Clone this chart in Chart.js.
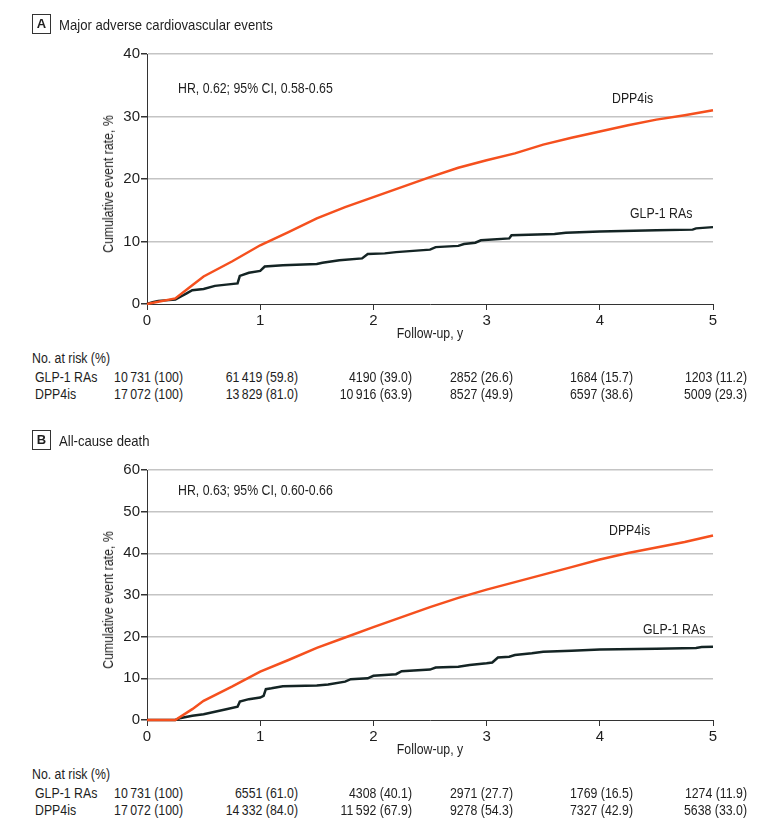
<!DOCTYPE html>
<html>
<head>
<meta charset="utf-8">
<script src="https://cdn.jsdelivr.net/npm/chart.js@4.4.0/dist/chart.umd.min.js"></script>
<style>
  body { margin: 0; background: #fff; }
  #page { position: relative; width: 780px; height: 827px; overflow: hidden;
          font-family: "Liberation Sans", Arial, sans-serif; color: #1e1e1e; }
  .panel { position: absolute; left: 0; width: 780px; height: 410px; }
  .panel canvas { position: absolute; left: 0; top: 0; }
  .txt { position: absolute; white-space: nowrap; line-height: 1; font-size: 14px;
         transform-origin: left center; transform: translateY(-50%) scaleX(0.88); }
  .num { text-align: right; width: 120px; transform-origin: right center; }
  .mid { transform-origin: center center; transform: translate(-50%, -50%) scaleX(0.88); }
  .rot { transform-origin: center center; transform: translate(-50%, -50%) rotate(-90deg) scaleX(0.88); }
  .tag { position: absolute; width: 17px; height: 18px; border: 1px solid #333; font-weight: bold;
         font-size: 13px; text-align: center; line-height: 18px; }
</style>
</head>
<body>
<div id="page"></div>
<script>
const FONT = '"Liberation Sans", Arial, sans-serif';

// x ticks (years)
const years = [0, 1, 2, 3, 4, 5];

// A: major adverse cardiovascular events
const maceDppT = [0, 0.25, 0.4, 0.5, 0.75, 1.0, 1.25, 1.5, 1.75, 2.0, 2.25, 2.5, 2.75, 3.0, 3.25, 3.5, 3.75, 4.0, 4.25, 4.5, 4.75, 5.0];
const maceDppY = [0, 0.9, 3.0, 4.4, 6.8, 9.4, 11.5, 13.7, 15.5, 17.1, 18.7, 20.3, 21.8, 23.0, 24.1, 25.5, 26.6, 27.6, 28.6, 29.5, 30.2, 31.0];
const maceGlpT = [0, 0.05, 0.1, 0.25, 0.3, 0.35, 0.4, 0.5, 0.6, 0.7, 0.8, 0.82, 0.9, 1.0, 1.04, 1.2, 1.5, 1.55, 1.7, 1.9,
                  1.95, 2.1, 2.2, 2.5, 2.55, 2.75, 2.8, 2.9, 2.95, 3.2, 3.22, 3.6, 3.7, 4.0, 4.5, 4.82, 4.85, 5.0];
const maceGlpY = [0, 0.3, 0.5, 0.7, 1.2, 1.7, 2.2, 2.4, 2.9, 3.1, 3.3, 4.5, 5.0, 5.3, 6.0, 6.2, 6.4, 6.6, 7.0, 7.3,
                  8.0, 8.1, 8.3, 8.7, 9.1, 9.3, 9.6, 9.8, 10.2, 10.5, 11.0, 11.2, 11.4, 11.6, 11.8, 11.9, 12.1, 12.3];
const maceYTicks = [0, 10, 20, 30, 40];
const maceRiskGlp = [10731, 61419, 4190, 2852, 1684, 1203];
const maceRiskGlpPct = ['100', '59.8', '39.0', '26.6', '15.7', '11.2'];
const maceRiskDpp = [17072, 13829, 10916, 8527, 6597, 5009];
const maceRiskDppPct = ['100', '81.0', '63.9', '49.9', '38.6', '29.3'];

// B: all-cause death
const deathDppT = [0, 0.25, 0.4, 0.5, 0.75, 1.0, 1.25, 1.5, 1.75, 2.0, 2.25, 2.5, 2.75, 3.0, 3.25, 3.5, 3.75, 4.0, 4.25, 4.5, 4.75, 5.0];
const deathDppY = [0, 0, 2.6, 4.6, 8.0, 11.6, 14.4, 17.3, 19.8, 22.3, 24.7, 27.1, 29.3, 31.3, 33.1, 34.9, 36.7, 38.5, 40.1, 41.4, 42.7, 44.3];
const deathGlpT = [0, 0.25, 0.3, 0.4, 0.5, 0.6, 0.7, 0.8, 0.82, 0.9, 1.0, 1.03, 1.05, 1.1, 1.2, 1.5, 1.6, 1.75, 1.8, 1.95,
                   2.0, 2.2, 2.25, 2.5, 2.55, 2.75, 2.85, 3.0, 3.05, 3.1, 3.2, 3.25, 3.4, 3.5, 3.75, 4.0, 4.5, 4.85, 4.9, 5.0];
const deathGlpY = [0, 0, 0.5, 1.0, 1.4, 2.0, 2.6, 3.2, 4.4, 5.0, 5.4, 5.8, 7.4, 7.6, 8.1, 8.3, 8.5, 9.2, 9.8, 10.0,
                   10.6, 11.0, 11.7, 12.1, 12.6, 12.8, 13.2, 13.6, 13.8, 15.0, 15.2, 15.6, 16.0, 16.4, 16.6, 16.9, 17.1, 17.3, 17.5, 17.6];
const deathYTicks = [0, 10, 20, 30, 40, 50, 60];
const deathRiskGlp = [10731, 6551, 4308, 2971, 1769, 1274];
const deathRiskGlpPct = ['100', '61.0', '40.1', '27.7', '16.5', '11.9'];
const deathRiskDpp = [17072, 14332, 11592, 9278, 7327, 5638];
const deathRiskDppPct = ['100', '84.0', '67.9', '54.3', '42.9', '33.0'];

const ORANGE = '#f5501e';
const DARK = '#142424';
const GRID = '#c4c4c4';
const AXIS = '#333';

// right edges of the at-risk columns
const colRight = [183, 298, 412, 513, 633, 747];

const pts = (t, y) => t.map((x, i) => ({ x: x, y: y[i] }));
const fmtN = n => n >= 10000 ? String(n).replace(/(\d{2})(\d{3})$/, '$1\u2009$2') : String(n);

const page = document.getElementById('page');

function addText(parent, text, x, y, cls, extra) {
    const d = document.createElement('div');
    d.className = cls || 'txt';
    d.textContent = text;
    d.style.left = x + 'px';
    d.style.top = y + 'px';
    if (extra) Object.assign(d.style, extra);
    parent.appendChild(d);
    return d;
}

function buildPanel(p) {
    const el = document.createElement('div');
    el.className = 'panel';
    el.style.top = p.top + 'px';
    page.appendChild(el);

    const cv = document.createElement('canvas');
    cv.width = 780;
    cv.height = 345;
    el.appendChild(cv);

    new Chart(cv, {
        type: 'line',
        data: {
            datasets: [
                { label: 'DPP4is', data: pts(p.dppT, p.dppY), borderColor: ORANGE, borderWidth: 2.5, pointRadius: 0, tension: 0, clip: 4 },
                { label: 'GLP-1 RAs', data: pts(p.glpT, p.glpY), borderColor: DARK, borderWidth: 2.5, pointRadius: 0, tension: 0, clip: 4 }
            ]
        },
        options: {
            responsive: false,
            animation: false,
            devicePixelRatio: 1,
            layout: { padding: { top: 54, left: 95, right: 67, bottom: 0 } },
            plugins: { legend: { display: false }, tooltip: { enabled: false } },
            scales: {
                x: {
                    type: 'linear', min: 0, max: 5,
                    afterBuildTicks: s => { s.ticks = years.map(v => ({ value: v })); },
                    afterFit: s => { s.height = 41; },
                    ticks: { font: { family: FONT, size: 15 }, color: '#1e1e1e', padding: 2, maxRotation: 0 },
                    grid: { drawOnChartArea: false, tickLength: 6, tickColor: AXIS },
                    border: { color: AXIS, width: 1 }
                },
                y: {
                    min: 0, max: p.yTicks[p.yTicks.length - 1],
                    afterBuildTicks: s => { s.ticks = p.yTicks.map(v => ({ value: v })); },
                    afterFit: s => { s.width = 52; },
                    ticks: { font: { family: FONT, size: 15 }, color: '#1e1e1e', padding: 1 },
                    grid: {
                        color: c => (c.tick && c.tick.value === 0) ? 'rgba(0,0,0,0)' : GRID,
                        lineWidth: 1.5, tickLength: 6, tickColor: AXIS
                    },
                    border: { color: AXIS, width: 1 }
                }
            }
        }
    });

    // panel heading
    addText(el, p.tag, 32, 14, 'tag');
    addText(el, p.title, 59, 24, 'txt', { fontSize: '15px', transform: 'translateY(-50%) scaleX(0.875)' });

    // axis titles
    addText(el, 'Cumulative event rate, %', 108, 184, 'txt rot');
    addText(el, 'Follow-up, y', 430, 333, 'txt mid');

    // annotations
    addText(el, p.hr, 178, p.hrY);
    addText(el, 'DPP4is', p.dppLab[0], p.dppLab[1]);
    addText(el, 'GLP-1 RAs', p.glpLab[0], p.glpLab[1]);

    // number at risk
    addText(el, 'No. at risk (%)', 32, 358);
    addText(el, 'GLP-1 RAs', 35, 377);
    addText(el, 'DPP4is', 35, 394);
    p.riskGlp.forEach((n, i) => {
        addText(el, fmtN(n) + ' (' + p.riskGlpPct[i] + ')', colRight[i] - 120, 377, 'txt num');
        addText(el, fmtN(p.riskDpp[i]) + ' (' + p.riskDppPct[i] + ')', colRight[i] - 120, 394, 'txt num');
    });
}

buildPanel({
    top: 0, tag: 'A', title: 'Major adverse cardiovascular events',
    hr: 'HR, 0.62; 95% CI, 0.58-0.65', hrY: 88,
    dppLab: [612, 98], glpLab: [630, 213],
    dppT: maceDppT, dppY: maceDppY, glpT: maceGlpT, glpY: maceGlpY, yTicks: maceYTicks,
    riskGlp: maceRiskGlp, riskGlpPct: maceRiskGlpPct, riskDpp: maceRiskDpp, riskDppPct: maceRiskDppPct
});

buildPanel({
    top: 416, tag: 'B', title: 'All-cause death',
    hr: 'HR, 0.63; 95% CI, 0.60-0.66', hrY: 74,
    dppLab: [609, 114], glpLab: [643, 213],
    dppT: deathDppT, dppY: deathDppY, glpT: deathGlpT, glpY: deathGlpY, yTicks: deathYTicks,
    riskGlp: deathRiskGlp, riskGlpPct: deathRiskGlpPct, riskDpp: deathRiskDpp, riskDppPct: deathRiskDppPct
});
</script>
</body>
</html>
